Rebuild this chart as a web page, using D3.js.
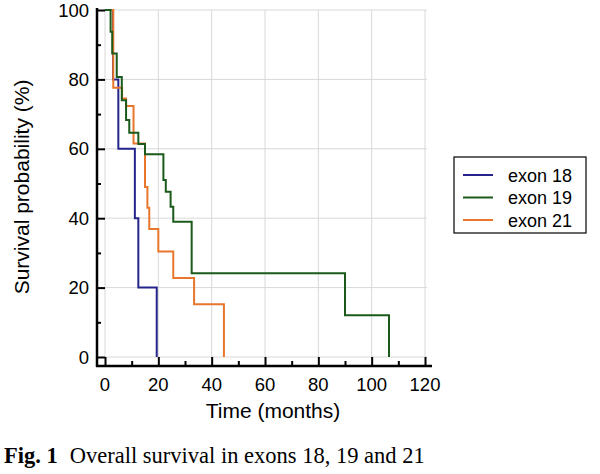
<!DOCTYPE html>
<html>
<head>
<meta charset="utf-8">
<script src="https://cdn.jsdelivr.net/npm/d3@7"></script>
<style>
  body { margin: 0; background: #fff; }
  text { font-family: "Liberation Sans", Arial, sans-serif; }
</style>
</head>
<body>
<svg width="600" height="474"></svg>
<script>
// Kaplan-Meier steps: [time (months), survival %]
const exon18 = [[0, 100], [3.0, 80], [5.0, 60], [11.2, 40], [12.5, 20], [19.4, 0]];
const exon19 = [[0, 100], [2.1, 93.7], [2.7, 87.5], [4.4, 80.7], [6.3, 74], [7.9, 68.3],
  [9.1, 64.6], [12.5, 61.4], [15.0, 58.4], [21.9, 51], [22.8, 47.6], [24.6, 43.3],
  [25.6, 39], [32.5, 24.1], [90, 12], [106.5, 0]];
const exon21 = [[0, 100], [3.1, 77.6], [6.4, 74.5], [7.9, 72.3], [10.7, 61.5],
  [15.0, 49], [15.9, 43], [16.6, 36.9], [20.0, 30.4], [25.6, 22.8], [33.4, 15.2], [44.6, 0]];

const seriesNames = ["exon 18", "exon 19", "exon 21"];
const seriesColors = ["#24248a", "#1b5a1b", "#e8762c"];
const xTicks = [0, 20, 40, 60, 80, 100, 120];
const yTicks = [0, 20, 40, 60, 80, 100];

const svg = d3.select("svg");

const x = d3.scaleLinear().domain([0, 120]).range([105, 425]);
const y = d3.scaleLinear().domain([0, 100]).range([357, 10]);

const xAxisY = y(0) + 9;
const yAxisX = x(0) - 8;

// grid
svg.append("g")
  .selectAll("line")
  .data(xTicks)
  .join("line")
  .attr("x1", d => x(d)).attr("x2", d => x(d))
  .attr("y1", y(100)).attr("y2", y(0))
  .attr("stroke", "#d8d8d8").attr("stroke-width", 1);

svg.append("g")
  .selectAll("line")
  .data(yTicks)
  .join("line")
  .attr("x1", x(0)).attr("x2", x(120) + 2)
  .attr("y1", d => y(d)).attr("y2", d => y(d))
  .attr("stroke", "#d8d8d8").attr("stroke-width", 1);

// y axis
const yAxis = d3.axisRight(y)
  .tickValues(d3.range(0, 101, 10))
  .tickSize(8)
  .tickFormat("");
const gy = svg.append("g")
  .attr("transform", `translate(${yAxisX},0)`)
  .call(yAxis);
gy.select(".domain").remove();
gy.selectAll(".tick line")
  .attr("stroke", "#000").attr("stroke-width", 2)
  .attr("x2", d => d % 20 === 0 ? 8 : 4);
svg.append("line")
  .attr("x1", yAxisX).attr("x2", yAxisX)
  .attr("y1", y(100) - 2).attr("y2", xAxisY + 1)
  .attr("stroke", "#000").attr("stroke-width", 2.5);

svg.append("g")
  .selectAll("text")
  .data(yTicks)
  .join("text")
  .attr("x", 89)
  .attr("y", d => y(d) + 6.5)
  .attr("text-anchor", "end")
  .attr("font-size", 18.5)
  .text(d => d);

// x axis
const xAxis = d3.axisTop(x)
  .tickValues(d3.range(0, 121, 10))
  .tickSize(9)
  .tickFormat("");
const gx = svg.append("g")
  .attr("transform", `translate(0,${xAxisY})`)
  .call(xAxis);
gx.select(".domain").remove();
gx.selectAll(".tick line")
  .attr("stroke", "#000").attr("stroke-width", 2)
  .attr("y2", d => d % 20 === 0 ? -9 : -5);
svg.append("line")
  .attr("x1", yAxisX - 1).attr("x2", x(120) + 7)
  .attr("y1", xAxisY).attr("y2", xAxisY)
  .attr("stroke", "#000").attr("stroke-width", 2.5);

svg.append("g")
  .selectAll("text")
  .data(xTicks)
  .join("text")
  .attr("x", d => x(d))
  .attr("y", 391)
  .attr("text-anchor", "middle")
  .attr("font-size", 18.5)
  .text(d => d);

// axis titles
svg.append("text")
  .attr("x", x(63))
  .attr("y", 418)
  .attr("text-anchor", "middle")
  .attr("font-size", 21)
  .text("Time (months)");

svg.append("text")
  .attr("transform", `translate(29,${y(49)}) rotate(-90)`)
  .attr("text-anchor", "middle")
  .attr("font-size", 21)
  .text("Survival probability (%)");

// survival curves
const step = d3.line()
  .x(d => x(d[0]))
  .y(d => y(d[1]))
  .curve(d3.curveStepAfter);

const curves = [exon18, exon19, exon21];
// draw order: blue, orange, green so green overlaps like in the figure
[0, 2, 1].forEach(i => {
  svg.append("path")
    .datum(curves[i])
    .attr("d", step)
    .attr("fill", "none")
    .attr("stroke", seriesColors[i])
    .attr("stroke-width", 2);
});

// legend
const legend = svg.append("g").attr("transform", "translate(454,157)");
legend.append("rect")
  .attr("width", 132).attr("height", 76)
  .attr("fill", "#fff").attr("stroke", "#000").attr("stroke-width", 1.2);
seriesNames.forEach((name, i) => {
  const ly = 18 + i * 22.5;
  legend.append("line")
    .attr("x1", 9).attr("x2", 39)
    .attr("y1", ly).attr("y2", ly)
    .attr("stroke", seriesColors[i]).attr("stroke-width", 2);
  legend.append("text")
    .attr("x", 54).attr("y", ly + 6.5)
    .attr("font-size", 18)
    .text(name);
});

// caption
const cap = svg.append("text")
  .attr("x", 4).attr("y", 463)
  .attr("font-family", "'Liberation Serif', 'Times New Roman', serif")
  .attr("font-size", 22.5);
cap.append("tspan").attr("font-weight", "bold").attr("font-family", "'Liberation Serif', serif").text("Fig. 1");
cap.append("tspan").attr("dx", 12).attr("font-family", "'Liberation Serif', serif").text("Overall survival in exons 18, 19 and 21");
</script>
</body>
</html>
